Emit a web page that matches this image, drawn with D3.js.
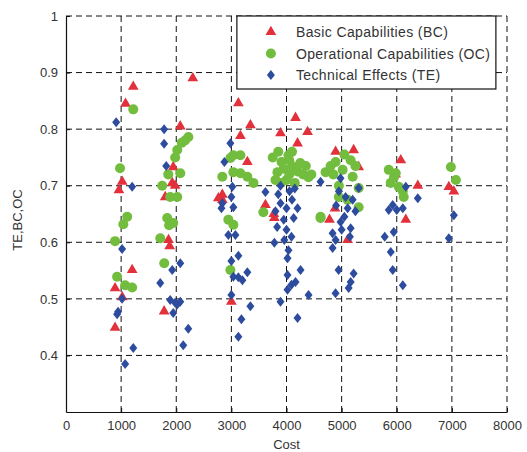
<!DOCTYPE html>
<html>
<head>
<meta charset="utf-8">
<script src="https://cdn.jsdelivr.net/npm/d3@7"></script>
<style>
  body { margin: 0; background: #fff; }
  text { font-family: "Liberation Sans", Arial, sans-serif; }
</style>
</head>
<body>
<div id="chart"></div>
<script>
// series: [cost, value]
const basicCap = [
  [1220,0.875],[1080,0.845],[1020,0.707],[960,0.692],[1200,0.551],[890,0.519],[1020,0.503],[890,0.449],
  [2300,0.89],[2073,0.805],[1945,0.733],[1927,0.705],[1980,0.70],[1800,0.68],[1860,0.604],[1880,0.593],[1780,0.478],
  [3127,0.846],[3345,0.807],[3164,0.788],[3290,0.742],[2836,0.684],[2836,0.675],[2764,0.678],[3000,0.495],
  [4164,0.82],[3891,0.793],[4382,0.795],[4200,0.775],[3618,0.666],[3770,0.65],[3780,0.643],
  [4891,0.76],[5218,0.763],[5309,0.733],[4880,0.66],[4780,0.64],[5109,0.604],
  [6073,0.745],[6382,0.70],[6164,0.64],[5980,0.72],
  [6945,0.698],[7036,0.69]
];
const operationalCap = [
  [1220,0.835],[980,0.731],[1110,0.645],[1040,0.632],[890,0.602],[927,0.539],[1073,0.524],[1200,0.52],
  [2220,0.786],[2160,0.78],[2100,0.776],[2018,0.763],[1980,0.75],[1855,0.72],[2073,0.722],[1745,0.70],
  [2018,0.68],[1890,0.68],[1836,0.643],[1945,0.634],[1870,0.63],[1710,0.607],[1782,0.563],
  [3036,0.754],[3164,0.754],[2982,0.749],[3036,0.724],[3164,0.722],[3290,0.716],[3400,0.705],[2836,0.716],
  [2945,0.64],[3036,0.631],[2982,0.551],
  [4036,0.754],[3910,0.742],[3836,0.724],[3950,0.73],[4050,0.745],[4100,0.735],[4200,0.725],[4300,0.72],
  [4400,0.715],[4000,0.71],[4150,0.705],[4450,0.72],[3580,0.653],[4618,0.643],
  [3750,0.75],[3850,0.76],[4100,0.76],[3900,0.705],[4250,0.74],[3800,0.71],[4350,0.735],[4050,0.72],
  [4891,0.742],[5018,0.728],[5164,0.745],[5200,0.716],[4709,0.724],[5309,0.696],[5309,0.662],[5109,0.675],
  [4618,0.645],[4950,0.70],[4850,0.72],[5050,0.755],[4950,0.68],[5250,0.735],[4800,0.735],
  [5855,0.728],[5982,0.722],[5891,0.705],[6036,0.698],[6110,0.69],[6127,0.68],[5950,0.715],
  [6982,0.733],[7073,0.71]
];
const technicalEff = [
  [910,0.812],[1200,0.698],[1018,0.588],[1018,0.50],[945,0.477],[927,0.473],[1220,0.413],[1073,0.385],
  [1780,0.80],[1780,0.774],[1818,0.735],[1927,0.551],[2073,0.563],[1710,0.528],[1890,0.498],[1980,0.493],
  [2073,0.495],[1945,0.475],[2018,0.49],[2218,0.447],[2127,0.418],
  [2982,0.775],[2873,0.742],[3018,0.698],[3000,0.68],[2836,0.669],[2820,0.66],[3036,0.662],[2945,0.613],
  [3073,0.613],[3000,0.567],[3127,0.576],[3036,0.539],[3127,0.538],[3200,0.533],[3290,0.547],[3000,0.507],
  [3345,0.487],[3182,0.464],[3127,0.433],
  [4618,0.707],[3618,0.689],[3891,0.70],[4054,0.69],[3891,0.669],[4000,0.66],[4130,0.643],[3830,0.627],
  [4000,0.622],[3780,0.599],[3960,0.604],[4090,0.61],[4036,0.586],[4018,0.572],[4255,0.551],[4018,0.542],
  [4164,0.53],[4090,0.525],[4018,0.516],[4400,0.507],[3891,0.495],[4200,0.466],
  [3850,0.685],[4100,0.675],[3950,0.64],[4150,0.695],[4200,0.66],[3800,0.655],
  [4980,0.713],[5309,0.696],[5072,0.68],[5200,0.675],[5109,0.66],[4980,0.636],[5000,0.622],[5164,0.625],
  [4836,0.616],[4891,0.604],[4836,0.59],[4945,0.551],[5218,0.545],[5164,0.53],[5127,0.519],[4890,0.51],
  [4950,0.69],[5250,0.655],[5050,0.645],[4900,0.665],[5150,0.61],
  [6164,0.698],[6382,0.678],[5927,0.666],[6000,0.657],[5855,0.657],[6110,0.66],[5945,0.618],[5782,0.61],
  [5891,0.583],[5927,0.551],[6110,0.524],
  [7036,0.648],[6945,0.607]
];

const xTicks = [0, 1000, 2000, 3000, 4000, 5000, 6000, 7000, 8000];
const yTicks = [0.4, 0.5, 0.6, 0.7, 0.8, 0.9, 1];
const legendLabels = ["Basic Capabilities (BC)", "Operational Capabilities (OC)", "Technical Effects (TE)"];

const margin = { top: 16, right: 20, bottom: 40, left: 66 };
const width = 441;
const height = 396;

const svg = d3.select("#chart")
  .append("svg")
  .attr("width", 527)
  .attr("height", 452)
  .append("g")
  .attr("transform", `translate(${margin.left},${margin.top})`);

const x = d3.scaleLinear().domain([0, 8000]).range([0, width]);
const y = d3.scaleLinear().domain([0.3, 1]).range([height, 0]);

// dashed grid (also gives the top and right edges)
svg.selectAll(".vgrid")
  .data(xTicks.filter(d => d > 0))
  .enter().append("line")
  .attr("x1", d => x(d)).attr("x2", d => x(d))
  .attr("y1", 0).attr("y2", height)
  .attr("stroke", "#111").attr("stroke-dasharray", "6,4");
svg.selectAll(".hgrid")
  .data(yTicks)
  .enter().append("line")
  .attr("x1", 0).attr("x2", width)
  .attr("y1", d => y(d)).attr("y2", d => y(d))
  .attr("stroke", "#111").attr("stroke-dasharray", "6,4");

// axes
const xAxis = svg.append("g")
  .attr("transform", `translate(0,${height})`)
  .call(d3.axisBottom(x).tickValues(xTicks).tickFormat(d3.format("d")).tickSizeInner(-4).tickSizeOuter(0).tickPadding(9));
const yAxis = svg.append("g")
  .call(d3.axisLeft(y).tickValues(yTicks).tickFormat(d => d === 1 ? "1" : d3.format(".1f")(d)).tickSizeInner(-4).tickSizeOuter(0).tickPadding(8));
[xAxis, yAxis].forEach(a => {
  a.select(".domain").attr("stroke", "#111").attr("stroke-width", 1.2);
  a.selectAll(".tick line").attr("stroke", "#111");
  a.selectAll("text").attr("font-size", 13).attr("fill", "#333");
});

// markers
const triangle = d3.symbol().type(d3.symbolTriangle).size(50);
function diamond(w, h) {
  return `M0,${-h}L${w},0L0,${h}L${-w},0Z`;
}

svg.selectAll(".bc")
  .data(basicCap)
  .enter().append("path")
  .attr("d", triangle)
  .attr("transform", d => `translate(${x(d[0])},${y(d[1])})`)
  .attr("fill", "#e2313b");

svg.selectAll(".oc")
  .data(operationalCap)
  .enter().append("circle")
  .attr("cx", d => x(d[0]))
  .attr("cy", d => y(d[1]))
  .attr("r", 5)
  .attr("fill", "#72bd3e");

svg.selectAll(".te")
  .data(technicalEff)
  .enter().append("path")
  .attr("d", diamond(4, 5))
  .attr("transform", d => `translate(${x(d[0])},${y(d[1])})`)
  .attr("fill", "#2d4c9e");

// axis titles
svg.append("text")
  .attr("x", width / 2).attr("y", height + 37)
  .attr("text-anchor", "middle").attr("font-size", 13).attr("fill", "#333")
  .text("Cost");
svg.append("text")
  .attr("transform", "rotate(-90)")
  .attr("x", -height / 2 - 6).attr("y", -44)
  .attr("text-anchor", "middle").attr("font-size", 13).attr("fill", "#333")
  .text("TE,BC,OC");

// legend
const legend = svg.append("g").attr("transform", `translate(${x(3100)},0)`);
legend.append("rect")
  .attr("width", 259).attr("height", 73)
  .attr("fill", "#fff").attr("stroke", "#111").attr("stroke-width", 1.2);
legendLabels.forEach((label, i) => {
  const ly = 16 + i * 21.5;
  if (i === 0) {
    legend.append("path").attr("d", triangle).attr("transform", `translate(34,${ly})`).attr("fill", "#e2313b");
  } else if (i === 1) {
    legend.append("circle").attr("cx", 34).attr("cy", ly).attr("r", 5).attr("fill", "#72bd3e");
  } else {
    legend.append("path").attr("d", diamond(4, 5)).attr("transform", `translate(34,${ly})`).attr("fill", "#2d4c9e");
  }
  legend.append("text")
    .attr("x", 59).attr("y", ly + 5)
    .attr("font-size", 14).attr("letter-spacing", 0.4).attr("fill", "#333")
    .text(label);
});
</script>
</body>
</html>
